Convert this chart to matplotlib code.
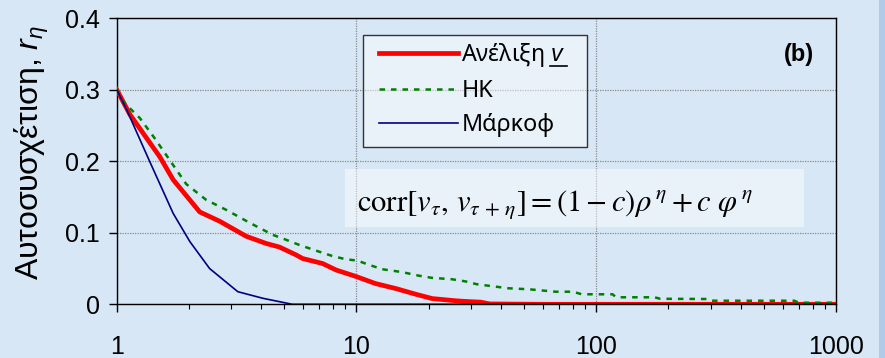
import matplotlib
matplotlib.use("Agg")
import matplotlib.pyplot as plt
from matplotlib.patches import Rectangle
from matplotlib.lines import Line2D
from matplotlib.ticker import FixedLocator, LogLocator, NullFormatter, FixedFormatter

# ---------------- data ----------------
red_x = [1, 1.136, 1.513, 1.72, 2.22, 2.69, 3.47, 4.2, 4.77, 5.6, 5.96, 7.22, 8.21,
         9.93, 12.0, 14.6, 17.7, 20.7, 25.8, 28.5, 33, 36, 60, 1000]
red_y = [0.300, 0.265, 0.206, 0.174, 0.129, 0.116, 0.095, 0.085, 0.080, 0.069, 0.064,
         0.057, 0.048, 0.039, 0.029, 0.022, 0.014, 0.008, 0.005, 0.004, 0.003, 0.0005,
         0.0, 0.0]

hk_x = [1, 1.08, 1.25, 1.44, 1.66, 1.95, 2.36, 2.86, 3.58, 4.48, 5.01, 5.77, 6.78, 7.93,
        9.0, 10.1, 11.1, 12.8, 15.5, 18.2, 20.6, 25, 28.5, 31.8, 43, 52.4, 67.5, 80, 87,
        117, 121, 175, 185, 291, 301, 670, 700, 1000]
hk_y = [0.300, 0.281, 0.260, 0.232, 0.202, 0.168, 0.146, 0.132, 0.114, 0.097, 0.091,
        0.083, 0.075, 0.0675, 0.063, 0.061, 0.056, 0.049, 0.045, 0.040, 0.037, 0.035,
        0.032, 0.028, 0.0224, 0.021, 0.0176, 0.0176, 0.014, 0.014, 0.0098, 0.0098,
        0.0077, 0.0074, 0.005, 0.005, 0.0022, 0.0022]

mk_x = [1, 1.1, 1.375, 1.72, 2.02, 2.44, 3.2, 4.07, 5.4, 1000]
mk_y = [0.300, 0.272, 0.199, 0.127, 0.0875, 0.050, 0.0176, 0.0084, 0.0, 0.0]

labels = ["Ανέλιξη $v$", "HK", "Μάρκοφ"]
x_ticks = [1, 10, 100, 1000]
x_ticklabels = ["1", "10", "100", "1000"]
y_ticks = [0, 0.1, 0.2, 0.3, 0.4]
y_ticklabels = ["0", "0.1", "0.2", "0.3", "0.4"]

# ---------------- style ----------------
BG = "#d7e7f5"
plt.rcParams["mathtext.fontset"] = "custom"
plt.rcParams["mathtext.it"] = "Liberation Sans:italic"
plt.rcParams["mathtext.rm"] = "Liberation Sans"

W, H = 885, 358
fig = plt.figure(figsize=(W / 100, H / 100), dpi=100, facecolor=BG)

def fx(px):
    return px / W

def fy(py):
    return 1 - py / H

ax = fig.add_axes([fx(116.7), fy(304.3), fx(836) - fx(116.7), fy(18) - fy(304.3)])
ax.set_facecolor(BG)
ax.set_xscale("log")
ax.set_xlim(1, 1000)
ax.set_ylim(0, 0.4)

ax.plot(red_x, red_y, color="#ff0000", lw=3.4, zorder=3, solid_joinstyle="round")
ax.plot(hk_x, hk_y, color="#008000", lw=1.8, dashes=(2.2, 2.4), zorder=4)
ax.plot(mk_x, mk_y, color="#000080", lw=1.2, zorder=5)

ax.xaxis.set_major_locator(FixedLocator(x_ticks))
ax.xaxis.set_major_formatter(FixedFormatter(x_ticklabels))
ax.xaxis.set_minor_locator(LogLocator(base=10, subs=range(2, 10)))
ax.xaxis.set_minor_formatter(NullFormatter())
ax.yaxis.set_major_locator(FixedLocator(y_ticks))
ax.yaxis.set_major_formatter(FixedFormatter(y_ticklabels))

for lab in ax.get_xticklabels() + ax.get_yticklabels():
    lab.set_fontfamily("Liberation Sans")
    lab.set_fontsize(18)
ax.tick_params(axis="x", which="major", direction="out", length=5.8, width=1, pad=16, colors="black")
ax.tick_params(axis="x", which="minor", direction="out", length=3.8, width=0.8)
ax.tick_params(axis="y", which="major", direction="out", length=6, width=1, pad=6)

for s in ax.spines.values():
    s.set_color("black")
    s.set_linewidth(1.0)

ax.grid(True, which="major", color="#8a8a8a", lw=0.9, ls=(0, (1, 1)), zorder=1)

# legend frame (drawn as its own box inside the axes, below the legend)
ax.add_patch(Rectangle((fx(362.7), fy(146.7)), fx(587.3) - fx(362.7), fy(35) - fy(146.7),
                       transform=fig.transFigure, facecolor=(1, 1, 1, 0.45),
                       edgecolor="#333333", lw=1.0, zorder=8, clip_on=False))

LEG_FS = 16.8
lines = ax.get_lines()

def make_leg(hl, htp, ls, ax_px, ay_px):
    return ax.legend(lines, labels, loc="upper left",
                     bbox_to_anchor=(fx(ax_px), fy(ay_px)), bbox_transform=fig.transFigure,
                     borderaxespad=0, frameon=False, borderpad=0,
                     prop={"family": "Noto Sans", "size": LEG_FS},
                     handlelength=hl, handletextpad=htp, labelspacing=ls)

hl, htp, ls, ay = 3.0, 0.3, 0.5, 45.0
fs_px = LEG_FS * 100 / 72
cap = 3.4 * 100 / 72
for _ in range(3):
    leg = make_leg(hl, htp, ls, 379.0, ay)
    leg.set_zorder(10)
    fig.canvas.draw()
    r = fig.canvas.get_renderer()
    hbox = leg.legend_handles[0].get_window_extent(r)
    tb = [t.get_window_extent(r) for t in leg.get_texts()]
    handle_w = hbox.width - cap if hbox.width > cap else 74
    hl = hl * 74.0 / max(handle_w, 1)
    gap = tb[0].x0 - (hbox.x1 - cap / 2)
    htp = max(0.0, htp + (6.0 - gap) / fs_px)
    c0 = (tb[0].y0 + tb[0].y1) / 2
    c2 = (tb[2].y0 + tb[2].y1) / 2
    spacing = (c0 - c2) / 2
    ls = max(0.0, ls + (35.0 - spacing) / fs_px)
    ay = ay - ((H - 55.0) - c0)
    leg.remove()

leg = make_leg(hl, htp, ls, 379.0, ay)
leg.set_zorder(10)

# (b)
fig.text(fx(799), fy(54), "(b)", fontsize=17, fontweight="bold",
         family="Liberation Sans", ha="center", va="center")

# formula box
fig.add_artist(Rectangle((fx(345), fy(227)), fx(804) - fx(345), fy(169) - fy(227),
                         transform=fig.transFigure, facecolor=(1, 1, 1, 0.45),
                         edgecolor="none", zorder=6))
fig.text(fx(356.7), fy(211),
         r"$\mathrm{corr}[v_{\tau},\, v_{\tau\,+\,\eta}] = (1 - c)\rho^{\,\eta} + c\ \varphi^{\,\eta}$",
         fontsize=22.1, math_fontfamily="stix", ha="left", va="baseline", zorder=7)

# y label
fig.text(fx(32), fy(153), r"Αυτοσυσχέτιση, $r_\eta$", rotation=90, fontsize=23,
         family="Liberation Sans", ha="center", va="center")

# right strip
fig.add_artist(Rectangle((fx(879), 0), 1 - fx(879), 1, transform=fig.transFigure,
                         facecolor="#b0cbe9", edgecolor="none"))

# underline the italic v in the first legend entry
fig.canvas.draw()
r = fig.canvas.get_renderer()
t0 = leg.get_texts()[0]
bb = t0.get_window_extent(r)
tmp = fig.text(0, 0, "$v$", fontsize=LEG_FS)
vw = tmp.get_window_extent(r).width
tmp.remove()
yline = bb.y0 + 3.5
fig.add_artist(Line2D([bb.x1 - vw - 1, bb.x1 + 1], [yline, yline], transform=None,
                      color="black", lw=1.2, zorder=11))

fig.savefig("out.png", dpi=100, facecolor=BG)
